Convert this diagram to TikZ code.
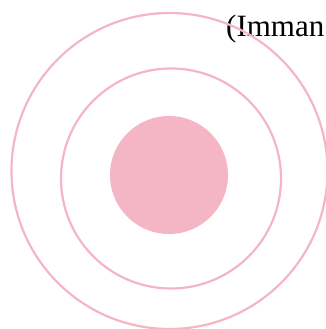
\documentclass[tikz,border=0pt]{standalone}
\usepackage{fontspec}
\setmainfont{Liberation Serif}
\usepackage{tikz}
\definecolor{ringpink}{RGB}{244,182,197}

\begin{document}
\begin{tikzpicture}[
  x=1pt,y=1pt,
  ring/.style={circle,draw=ringpink,line width=2.2pt,inner sep=0pt},
  core/.style={circle,fill=ringpink,inner sep=0pt},
  caption/.style={font=\fontsize{31}{33}\selectfont,inner sep=0pt,anchor=base west}
]
\useasboundingbox (0,0) rectangle (326,329);

% Label
\node[caption] (name) at (226,292) {(Imman};

% Rings
\node[core] (inner) at (169,154) [minimum size=118pt] {};
\node[ring] (middle) at (171,150.5) [minimum size=220pt] {};
\node[ring] (outer) at (169.5,158) [minimum size=316pt] {};

\end{tikzpicture}
\end{document}
